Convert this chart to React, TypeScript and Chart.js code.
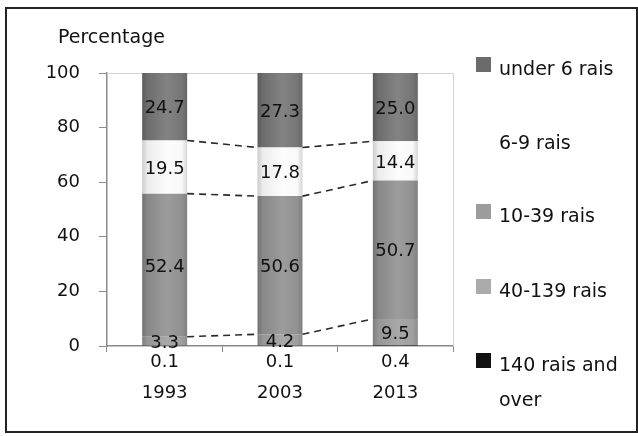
import React, { useEffect, useRef } from 'react';
import { Chart, registerables } from 'chart.js';

Chart.register(...registerables);

const years = ['1993', '2003', '2013'];
const seriesLabels = ['140 rais and over', '40-139 rais', '10-39 rais', '6-9 rais', 'under 6 rais'];
const over140 = [0.1, 0.1, 0.4];
const r40to139 = [3.3, 4.2, 9.5];
const r10to39 = [52.4, 50.6, 50.7];
const r6to9 = [19.5, 17.8, 14.4];
const under6 = [24.7, 27.3, 25.0];
const yTicks = [0, 20, 40, 60, 80, 100];
const axisTitle = 'Percentage';
const seriesValues = [over140, r40to139, r10to39, r6to9, under6];
const seriesColors = ['#111111', '#9c9c9c', '#8e8e8e', '#f8f8f8', '#727272'];
const legendColors = ['#111111', '#ababab', '#9c9c9c', '#ffffff', '#6b6b6b'];

const FONT = "'DejaVu Sans', Verdana, sans-serif";

function shade(hex: string, f: number): string {
  const n = parseInt(hex.slice(1), 16);
  const ch = (v: number) => Math.max(0, Math.min(255, Math.round(f >= 1 ? v + (255 - v) * (f - 1) : v * f)));
  const r = ch((n >> 16) & 255), g = ch((n >> 8) & 255), b = ch(n & 255);
  return `rgb(${r},${g},${b})`;
}

const BAR_PCT = 0.39;

function barFill(idx: number) {
  const base = seriesColors[idx];
  return (c: any) => {
    const chart = c.chart;
    if (c.dataIndex === undefined || !chart.scales || !chart.scales.x || !chart.chartArea) return base;
    const xs = chart.scales.x;
    const x = xs.getPixelForValue(c.dataIndex);
    const w = (xs.width / years.length) * BAR_PCT;
    const g = chart.ctx.createLinearGradient(x - w / 2, 0, x + w / 2, 0);
    const white = idx === 3;
    g.addColorStop(0, shade(base, white ? 0.82 : 0.8));
    g.addColorStop(0.12, shade(base, white ? 0.95 : 0.96));
    g.addColorStop(0.55, shade(base, white ? 1.5 : 1.12));
    g.addColorStop(0.88, shade(base, white ? 1.2 : 1.03));
    g.addColorStop(1, shade(base, white ? 0.86 : 0.9));
    return g;
  };
}

const decorPlugin = {
  id: 'decor',
  beforeDatasetsDraw(chart: any) {
    const { ctx, chartArea } = chart;
    ctx.save();
    ctx.strokeStyle = '#d4d4d4';
    ctx.lineWidth = 1;
    ctx.beginPath();
    ctx.moveTo(chartArea.left, chartArea.top + 0.5);
    ctx.lineTo(chartArea.right + 0.5, chartArea.top + 0.5);
    ctx.lineTo(chartArea.right + 0.5, chartArea.bottom);
    ctx.stroke();
    ctx.restore();
  },
  afterDatasetsDraw(chart: any) {
    const { ctx } = chart;
    ctx.save();
    // series lines
    ctx.strokeStyle = '#2a2a2a';
    ctx.lineWidth = 1.6;
    ctx.setLineDash([7, 5]);
    for (let d = 1; d <= 3; d++) {
      const meta = chart.getDatasetMeta(d);
      for (let i = 0; i < meta.data.length - 1; i++) {
        const a = meta.data[i].getProps(['x', 'y', 'width'], true);
        const b = meta.data[i + 1].getProps(['x', 'y', 'width'], true);
        ctx.beginPath();
        ctx.moveTo(a.x + a.width / 2, a.y);
        ctx.lineTo(b.x - b.width / 2, b.y);
        ctx.stroke();
      }
    }
    ctx.setLineDash([]);
    // data labels
    ctx.fillStyle = '#111111';
    ctx.font = `18px ${FONT}`;
    ctx.textAlign = 'center';
    ctx.textBaseline = 'middle';
    for (let d = 1; d < seriesValues.length; d++) {
      const meta = chart.getDatasetMeta(d);
      meta.data.forEach((el: any, i: number) => {
        const p = el.getProps(['x', 'y', 'base'], true);
        ctx.fillText(seriesValues[d][i].toFixed(1), p.x, (p.y + p.base) / 2 + 2);
      });
    }
    ctx.restore();
  },
  afterDraw(chart: any) {
    const { ctx } = chart;
    ctx.save();
    ctx.fillStyle = '#111111';
    ctx.font = `19px ${FONT}`;
    ctx.textAlign = 'left';
    ctx.textBaseline = 'middle';
    ctx.fillText(axisTitle, 58, 38);
    // legend
    const rowY = [70, 144, 217, 292, 366];
    const order = [4, 3, 2, 1, 0];
    order.forEach((d, r) => {
      const y = rowY[r];
      ctx.fillStyle = legendColors[d];
      ctx.fillRect(476, y - 13, 15, 15);
      ctx.fillStyle = '#111111';
      const words = seriesLabels[d].split(' ');
      const lines: string[] = [];
      let cur = '';
      words.forEach((w) => {
        const t = cur ? cur + ' ' + w : w;
        if (ctx.measureText(t).width > 132 && cur) {
          lines.push(cur);
          cur = w;
        } else cur = t;
      });
      lines.push(cur);
      lines.forEach((ln, k) => ctx.fillText(ln, 499, y + k * 35));
    });
    ctx.restore();
  },
};

export default function App() {
  const ref = useRef<HTMLCanvasElement>(null);
  useEffect(() => {
    if (!ref.current) return;
    const chart = new Chart(ref.current, {
      type: 'bar',
      data: {
        labels: years.map((y, i) => [over140[i].toFixed(1), y]),
        datasets: seriesValues.map((vals, d) => ({
          label: seriesLabels[d],
          data: vals,
          backgroundColor: barFill(d),
          borderWidth: 0,
          categoryPercentage: 1,
          barPercentage: BAR_PCT,
        })),
      },
      plugins: [decorPlugin],
      options: {
        animation: false,
        responsive: false,
        devicePixelRatio: 1,
        layout: { padding: { top: 73, right: 185, left: 0, bottom: 0 } },
        plugins: { legend: { display: false }, tooltip: { enabled: false }, title: { display: false } },
        scales: {
          x: {
            stacked: true,
            offset: true,
            grid: { display: true, offset: true, drawOnChartArea: false, tickLength: 6, color: '#8a8a8a' },
            border: { display: true, color: '#8a8a8a', width: 1.5 },
            ticks: {
              color: '#111111',
              padding: -5,
              font: { family: FONT, size: 18, lineHeight: 1.72 },
            },
            afterFit: (s: any) => { s.height = 90; },
          },
          y: {
            stacked: true,
            min: 0,
            max: 100,
            afterBuildTicks: (s: any) => { s.ticks = yTicks.map((v) => ({ value: v })); },
            grid: { display: true, drawOnChartArea: false, tickLength: 8, color: '#8a8a8a' },
            border: { display: true, color: '#8a8a8a', width: 1.5 },
            ticks: { color: '#111111', padding: 19, font: { family: FONT, size: 18 } },
            afterFit: (s: any) => { s.width = 107; },
          },
        },
      },
    });
    return () => chart.destroy();
  }, []);
  return (
    <div style={{ position: 'absolute', left: 0, top: 0, width: 638, height: 436, background: '#fff' }}>
      <canvas ref={ref} width={638} height={436} style={{ position: 'absolute', left: 0, top: 0, width: 638, height: 436 }} />
      <div
        style={{
          position: 'absolute',
          left: 5,
          top: 7,
          width: 633,
          height: 426,
          boxSizing: 'border-box',
          border: '2px solid #222',
          pointerEvents: 'none',
        }}
      />
    </div>
  );
}
